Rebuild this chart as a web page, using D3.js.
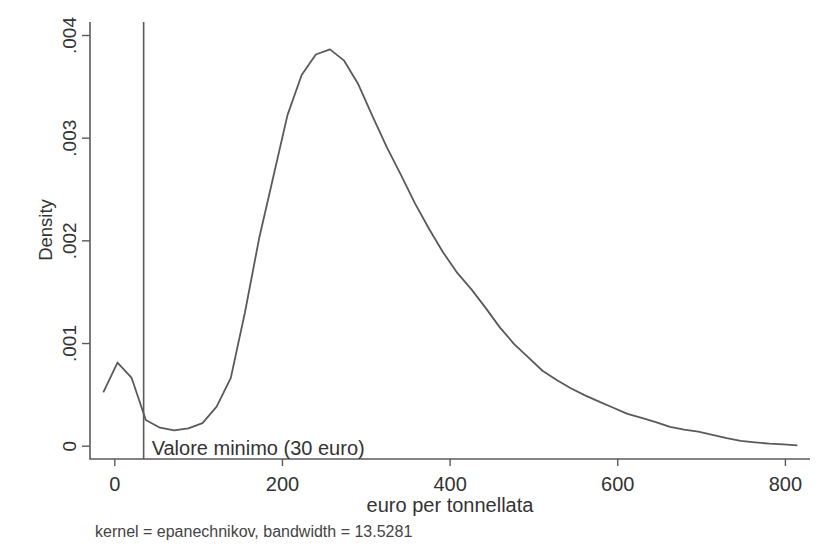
<!DOCTYPE html>
<html>
<head>
<meta charset="utf-8">
<script src="https://cdn.jsdelivr.net/npm/d3@7"></script>
<style>
  html, body { margin: 0; padding: 0; background: #ffffff; }
  svg { display: block; font-family: "Liberation Sans", Arial, sans-serif; }
</style>
</head>
<body>
<svg id="chart" width="820" height="557"></svg>
<script>
// ---- data ----
const xValues = [-13.1, 3.8, 20.7, 37.6, 54.5, 71.4, 88.3, 105.2, 122.1, 139.0,
  155.9, 172.8, 189.7, 206.6, 223.5, 240.4, 257.3, 274.2, 291.1, 308.0,
  324.9, 341.8, 358.7, 375.6, 392.5, 409.4, 426.3, 443.2, 460.1, 477.0,
  493.9, 510.8, 527.7, 544.6, 561.5, 578.4, 595.3, 612.2, 629.1, 646.0,
  662.9, 679.8, 696.7, 713.6, 730.5, 747.4, 764.3, 781.2, 798.1, 815.0];
const densityValues = [0.00052, 0.00081, 0.00066, 0.00025, 0.000175, 0.00015, 0.000168, 0.00022, 0.00038, 0.00066,
  0.0013, 0.00202, 0.00262, 0.00322, 0.00361, 0.00381, 0.00386, 0.00375, 0.00352, 0.00321,
  0.00291, 0.00264, 0.00236, 0.00211, 0.00188, 0.00168, 0.00152, 0.00134, 0.00115, 0.00099,
  0.00086, 0.00073, 0.00064, 0.00056, 0.00049, 0.00043, 0.00037, 0.00031, 0.00027, 0.00023,
  0.000184, 0.000157, 0.000137, 0.000105, 0.000073, 0.000046, 0.000032, 0.00002, 0.000012, 0.000003];
const xTicks = [0, 200, 400, 600, 800];
const yTicks = [0, 0.001, 0.002, 0.003, 0.004];
const yTickLabels = ["0", ".001", ".002", ".003", ".004"];
const minValue = 35;
const minLabel = "Valore minimo (30 euro)";
const xTitle = "euro per tonnellata";
const yTitle = "Density";
const note = "kernel = epanechnikov, bandwidth = 13.5281";

// ---- layout ----
const svg = d3.select("#chart");
const plot = { left: 90, right: 810, top: 22, bottom: 459 };
const x = d3.scaleLinear().domain([0, 800]).range([114.3, 784.9]);
const y = d3.scaleLinear().domain([0, 0.004]).range([445.7, 35]);
const lineColor = "#5a5a5a";
const textColor = "#333333";

// axes lines
svg.append("line").attr("x1", plot.left).attr("x2", plot.left)
  .attr("y1", plot.top).attr("y2", plot.bottom)
  .attr("stroke", lineColor).attr("stroke-width", 1.6);
svg.append("line").attr("x1", plot.left - 0.8).attr("x2", plot.right)
  .attr("y1", plot.bottom).attr("y2", plot.bottom)
  .attr("stroke", lineColor).attr("stroke-width", 1.6);

// y axis
const yAxis = svg.append("g").attr("transform", `translate(${plot.left},0)`)
  .call(d3.axisLeft(y).tickValues(yTicks).tickSize(8).tickFormat((d, i) => yTickLabels[i]));
yAxis.select(".domain").remove();
yAxis.selectAll(".tick line").attr("stroke", lineColor).attr("stroke-width", 1.4);
yAxis.selectAll(".tick text")
  .attr("fill", textColor).attr("font-size", 19).attr("font-family", "Liberation Sans, Arial, sans-serif")
  .attr("text-anchor", "middle").attr("x", null).attr("dy", null)
  .attr("transform", "translate(-14,0) rotate(-90)");

// x axis
const xAxis = svg.append("g").attr("transform", `translate(0,${plot.bottom})`)
  .call(d3.axisBottom(x).tickValues(xTicks).tickSize(7).tickFormat(d3.format("d")));
xAxis.select(".domain").remove();
xAxis.selectAll(".tick line").attr("stroke", lineColor).attr("stroke-width", 1.4);
xAxis.selectAll(".tick text")
  .attr("fill", textColor).attr("font-size", 20).attr("font-family", "Liberation Sans, Arial, sans-serif")
  .attr("y", 32).attr("dy", null);

// vertical marker line
svg.append("line").attr("x1", x(minValue)).attr("x2", x(minValue))
  .attr("y1", plot.top).attr("y2", plot.bottom)
  .attr("stroke", lineColor).attr("stroke-width", 1.6);
svg.append("text").attr("x", x(minValue) + 8).attr("y", 455)
  .attr("fill", textColor).attr("font-size", 20).text(minLabel);

// density curve
const pts = xValues.map((v, i) => [v, densityValues[i]]);
svg.append("path").datum(pts)
  .attr("fill", "none").attr("stroke", lineColor).attr("stroke-width", 1.8)
  .attr("stroke-linejoin", "round")
  .attr("d", d3.line().x(d => x(d[0])).y(d => y(d[1])));

// titles
svg.append("text").attr("x", (plot.left + plot.right) / 2).attr("y", 512)
  .attr("text-anchor", "middle").attr("fill", textColor).attr("font-size", 20).text(xTitle);
svg.append("text").attr("transform", "translate(52,230) rotate(-90)")
  .attr("text-anchor", "middle").attr("fill", textColor).attr("font-size", 18.5).text(yTitle);
svg.append("text").attr("x", 95).attr("y", 537)
  .attr("fill", "#444444").attr("font-size", 16).text(note);
</script>
</body>
</html>
